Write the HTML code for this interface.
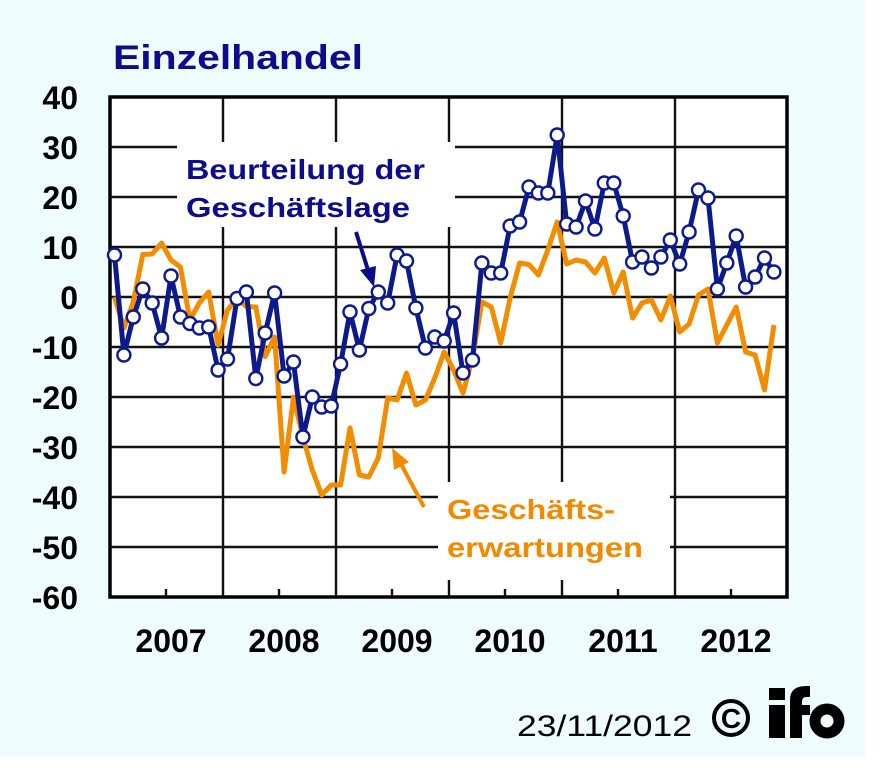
<!DOCTYPE html>
<html><head><meta charset="utf-8"><style>
html,body{margin:0;padding:0;background:#fff;}
svg{display:block;}
</style></head><body>
<svg id="root" width="886" height="779" viewBox="0 0 886 779" xmlns="http://www.w3.org/2000/svg" font-family="Liberation Sans, Arial, sans-serif">
<rect x="0" y="0" width="886" height="779" fill="#fff"/>
<rect x="0" y="0" width="865" height="757" fill="#effcfd"/>
<text x="113" y="69" font-size="34" font-weight="bold" fill="#0c0c8c" textLength="250" lengthAdjust="spacingAndGlyphs">Einzelhandel</text>
<rect x="110" y="97" width="677" height="500" fill="#fff"/>
<g stroke="#111" stroke-width="2.4">
<line x1="110" y1="147" x2="787" y2="147"/><line x1="110" y1="197" x2="787" y2="197"/>
<line x1="110" y1="247" x2="787" y2="247"/><line x1="110" y1="297" x2="787" y2="297"/>
<line x1="110" y1="347" x2="787" y2="347"/><line x1="110" y1="397" x2="787" y2="397"/>
<line x1="110" y1="447" x2="787" y2="447"/><line x1="110" y1="497" x2="787" y2="497"/>
<line x1="110" y1="547" x2="787" y2="547"/>
<line x1="223" y1="97" x2="223" y2="597"/><line x1="336" y1="97" x2="336" y2="597"/>
<line x1="449" y1="97" x2="449" y2="597"/><line x1="562" y1="97" x2="562" y2="597"/>
<line x1="675" y1="97" x2="675" y2="597"/>
<line x1="166" y1="589" x2="166" y2="597"/><line x1="279" y1="589" x2="279" y2="597"/>
<line x1="392" y1="589" x2="392" y2="597"/><line x1="505" y1="589" x2="505" y2="597"/>
<line x1="618" y1="589" x2="618" y2="597"/><line x1="731" y1="589" x2="731" y2="597"/>
</g>
<rect x="177" y="142" width="278" height="85" fill="#fff"/>
<rect x="438" y="482" width="232" height="98" fill="#fff"/>
<rect x="110" y="97" width="677" height="500" fill="none" stroke="#000" stroke-width="3.5"/>
<g font-size="32" font-weight="bold" fill="#000" text-anchor="end">
<text x="78" y="109">40</text><text x="78" y="159">30</text><text x="78" y="209">20</text>
<text x="78" y="259">10</text><text x="78" y="309">0</text><text x="78" y="359">-10</text>
<text x="78" y="409">-20</text><text x="78" y="459">-30</text><text x="78" y="509">-40</text>
<text x="78" y="559">-50</text><text x="78" y="609">-60</text>
</g>
<g font-size="32" font-weight="bold" fill="#000" text-anchor="middle">
<text x="171" y="652">2007</text><text x="284" y="652">2008</text><text x="397" y="652">2009</text>
<text x="510" y="652">2010</text><text x="623" y="652">2011</text><text x="736" y="652">2012</text>
</g>
<g font-size="28" font-weight="bold" fill="#0c0c8c">
<text x="186" y="179" textLength="239" lengthAdjust="spacingAndGlyphs">Beurteilung der</text>
<text x="186" y="217" textLength="224" lengthAdjust="spacingAndGlyphs">Geschäftslage</text>
</g>
<g font-size="28" font-weight="bold" fill="#f08a00">
<text x="447" y="519" textLength="168" lengthAdjust="spacingAndGlyphs">Geschäfts-</text>
<text x="447" y="557" textLength="196" lengthAdjust="spacingAndGlyphs">erwartungen</text>
</g>
<line x1="356" y1="232" x2="368" y2="270" stroke="#0c0c8c" stroke-width="4"/>
<polygon points="374,287 360,270 376,266" fill="#0c0c8c"/>
<line x1="424" y1="507" x2="401" y2="464" stroke="#f08a00" stroke-width="4"/>
<polygon points="392,448 394,470 409,462" fill="#f08a00"/>
<polyline id="o" fill="none" stroke="#f28c00" stroke-width="5" stroke-linejoin="round" points=""/>
<polyline id="b" fill="none" stroke="#0c1a8c" stroke-width="5" stroke-linejoin="round" points=""/>
<g id="m"></g>
<text x="517" y="736" font-size="30" fill="#000" textLength="175" lengthAdjust="spacingAndGlyphs">23/11/2012</text>
<circle cx="731" cy="718" r="17" fill="none" stroke="#000" stroke-width="4"/>
<text x="731" y="728" font-size="28" font-weight="bold" text-anchor="middle" fill="#000">C</text>
<rect x="769" y="688" width="16" height="12" fill="#000"/>
<rect x="769" y="705" width="16" height="33" fill="#000"/>
<path d="M790 738 V700 Q790 686 806 686 H810 V697 H806 Q802 697 802 702 V705 H810 V715 H802 V738 Z" fill="#000"/>
<circle cx="827" cy="721" r="12" fill="none" stroke="#000" stroke-width="11"/>
<script>
var B=[8.4,-11.6,-4,1.6,-1.2,-8.2,4.2,-4,-5.3,-6.2,-6,-14.6,-12.4,-0.3,1,-16.3,-7.2,0.8,-15.8,-13,-28,-20,-22,-21.8,-13.4,-3,-10.6,-2.3,1,-1.2,8.4,7.2,-2.2,-10.2,-8,-8.8,-3.2,-15.2,-12.6,6.8,4.8,4.8,14.2,15,22,20.8,20.8,32.4,14.6,14,19.2,13.6,22.8,22.8,16.2,7,8,5.8,8,11.4,6.6,13,21.4,19.8,1.6,6.8,12.2,2,4,7.8,5];
var O=[0,-6.2,-1,8.5,8.6,10.8,7.4,6,-4.6,-1.2,1,-9.6,-2.6,-0.3,-1.9,-2,-11.9,-8,-35,-20,-28,-34.6,-39.6,-37.6,-37.6,-26.2,-35.6,-36,-32.2,-20.2,-20.6,-15.2,-21.6,-20.6,-16.2,-11,-14.6,-19.2,-12.2,-1,-2,-9.2,-0.2,6.8,6.5,4.4,9.4,15,6.6,7.4,7,4.8,7.8,0.8,5,-4.2,-1.2,-0.6,-4.6,0.2,-7,-5.4,0.4,1.6,-9.2,-5.6,-2,-11,-11.6,-18.6,-5.6];
function X(i){return 114.5+i*9.42;}function Y(v){return 297-v*5;}
document.getElementById('o').setAttribute('points',O.map(function(v,i){return X(i).toFixed(1)+','+Y(v).toFixed(1)}).join(' '));
document.getElementById('b').setAttribute('points',B.map(function(v,i){return X(i).toFixed(1)+','+Y(v).toFixed(1)}).join(' '));
var g=document.getElementById('m'),NS='http://www.w3.org/2000/svg';
B.forEach(function(v,i){var c=document.createElementNS(NS,'circle');
c.setAttribute('cx',X(i).toFixed(1));c.setAttribute('cy',Y(v).toFixed(1));c.setAttribute('r','6.5');
c.setAttribute('fill','#fff');c.setAttribute('stroke','#0c1a8c');c.setAttribute('stroke-width','2.4');g.appendChild(c);});
</script>
</svg>
</body></html>
